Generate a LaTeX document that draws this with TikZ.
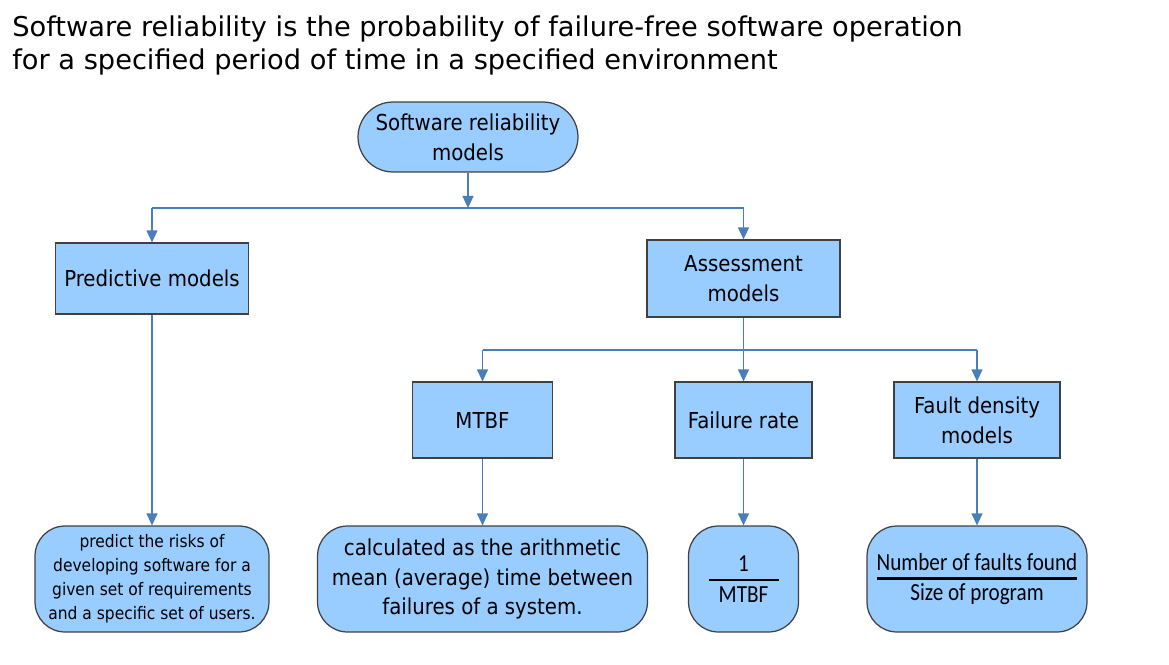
\documentclass[tikz,border=0pt]{standalone}
\usepackage{fontspec}
\setmainfont{DejaVu Sans}
\newfontfamily\boxfont{DejaVu Sans Condensed}
\newfontfamily\fracfont[FakeStretch=0.86]{Carlito}
\usetikzlibrary{arrows.meta,positioning}
\definecolor{skyb}{RGB}{153,204,255}
\definecolor{arr}{RGB}{74,126,187}
\tikzset{
  blk/.style={draw=black!75, fill=skyb, line width=0.7pt, inner sep=2pt, align=center,
    font=\boxfont\fontsize{12.5}{17}\selectfont}
}
\tikzset{
  sqbox/.style={blk, rectangle}
}
\tikzset{
  rndbox/.style={blk, minimum height=2.12cm, rounded corners=0.6cm}
}
\tikzset{
  fracbox/.style={rndbox, font=\fracfont\fontsize{14}{17}\selectfont}
}
\tikzset{
  bus/.style={draw=arr, line width=0.7pt},
  link/.style={bus, -{Triangle[length=0.24cm,width=0.22cm]}}
}

\begin{document}
\begin{tikzpicture}[x=0.02cm, y=-0.02cm]
      \useasboundingbox (0,0) rectangle (1169,665);
      \node[anchor=north west, inner sep=0, align=left, font=\fontsize{15.5}{19}\selectfont] (title) at (12,15)
        {Software reliability is the probability of failure-free software operation\\
         for a specified period of time in a specified environment};

      \node[blk, minimum width=4.4cm, minimum height=1.4cm, rounded corners=0.7cm] (root) at (468,137)
        {Software reliability\\models};
      \node[sqbox, minimum width=3.86cm, minimum height=1.42cm] (pred) at (152,278.5) {Predictive models};
      \node[sqbox, minimum width=3.86cm, minimum height=1.54cm] (assess) at (743.5,278.5) {Assessment\\models};

      \node[sqbox, minimum width=2.8cm, minimum height=1.52cm] (mtbf) at (482.5,420) {MTBF};
      \node[sqbox, minimum width=2.74cm, minimum height=1.52cm] (frate) at (743.5,420) {Failure rate};
      \node[sqbox, minimum width=3.32cm, minimum height=1.52cm] (fdens) at (977,420) {Fault density\\models};

      % bottom row
      \node[rndbox, minimum width=4.68cm, font=\boxfont\fontsize{9.8}{13.6}\selectfont] (dpred) at (152,579)
        {predict the risks of\\developing software for a\\given set of requirements\\and a specific set of users.};
      \node[rndbox, minimum width=6.6cm] (dmtbf) at (482.5,579)
        {calculated as the arithmetic\\mean (average) time between\\failures of a system.};
      \node[fracbox, minimum width=2.2cm] (dfrate) at (743.5,579)
        {1\\[-11.5pt]\rule{1.4cm}{1.4pt}\\[-5pt]MTBF};
      \node[fracbox, minimum width=4.4cm] (dfdens) at (977,579)
        {Number of faults found\\[-11.5pt]\rule{4.0cm}{1.4pt}\\[-5pt]Size of program};

      \coordinate (b0) at (468,208);
      \coordinate (bl) at (152,208);
      \coordinate (br) at (743.5,208);
      \coordinate (cl) at (482.5,350);
      \coordinate (cr) at (977,350);

      \draw[link] (root) -- (b0);
      \draw[bus] (bl) -- (br);
      \draw[link] (bl) -- (pred);
      \draw[link] (br) -- (assess);
      \draw[link] (assess) -- (frate);
      \draw[bus] (cl) -- (cr);
      \draw[link] (cl) -- (mtbf);
      \draw[link] (cr) -- (fdens);

      \draw[link] (pred) -- (dpred);
      \draw[link] (mtbf) -- (dmtbf);
      \draw[link] (frate) -- (dfrate);
      \draw[link] (fdens) -- (dfdens);
    \end{tikzpicture}
\end{document}
